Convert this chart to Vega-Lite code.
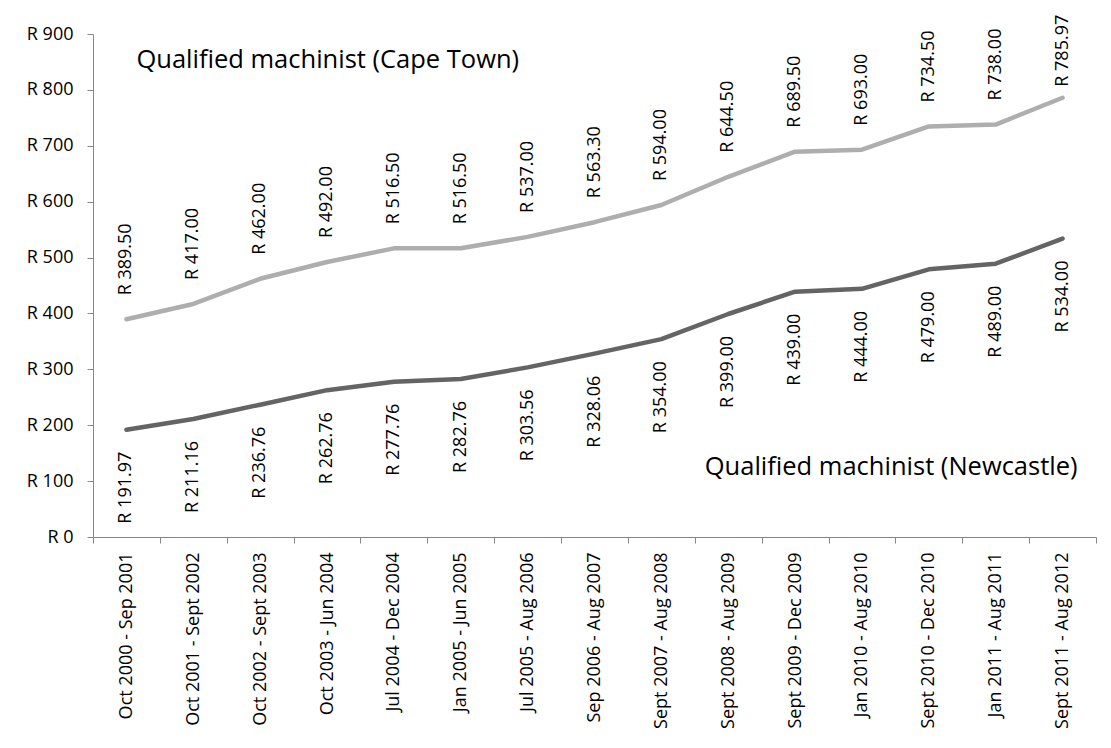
{
  "$schema": "https://vega.github.io/schema/vega-lite/v6.json",
  "autosize": {"type": "none"},
  "padding": {"left": 93, "top": 34, "right": 15, "bottom": 211},
  "width": 1003,
  "height": 503,
  "background": "white",
  "config": {
    "locale": {"number": {"decimal": ".", "thousands": ",", "grouping": [3], "currency": ["R ", ""]}},
    "view": {"stroke": null},
    "font": "Open Sans",
    "axis": {
      "domainColor": "#868686",
      "tickColor": "#868686",
      "labelColor": "#000000",
      "labelFont": "Open Sans",
      "labelFontSize": 18,
      "grid": false,
      "title": null,
      "tickSize": 6
    }
  },
  "datasets": {
    "wages": [
      {"period": "Oct 2000 - Sep 2001", "series": "Cape Town", "value": 389.50},
      {"period": "Oct 2001 - Sept 2002", "series": "Cape Town", "value": 417.00},
      {"period": "Oct 2002 - Sept 2003", "series": "Cape Town", "value": 462.00},
      {"period": "Oct 2003 - Jun 2004", "series": "Cape Town", "value": 492.00},
      {"period": "Jul 2004 - Dec 2004", "series": "Cape Town", "value": 516.50},
      {"period": "Jan 2005 - Jun 2005", "series": "Cape Town", "value": 516.50},
      {"period": "Jul 2005 - Aug 2006", "series": "Cape Town", "value": 537.00},
      {"period": "Sep 2006 - Aug 2007", "series": "Cape Town", "value": 563.30},
      {"period": "Sept 2007 - Aug 2008", "series": "Cape Town", "value": 594.00},
      {"period": "Sept 2008 - Aug 2009", "series": "Cape Town", "value": 644.50},
      {"period": "Sept 2009 - Dec 2009", "series": "Cape Town", "value": 689.50},
      {"period": "Jan 2010 - Aug 2010", "series": "Cape Town", "value": 693.00},
      {"period": "Sept 2010 - Dec 2010", "series": "Cape Town", "value": 734.50},
      {"period": "Jan 2011 - Aug 2011", "series": "Cape Town", "value": 738.00},
      {"period": "Sept 2011 - Aug 2012", "series": "Cape Town", "value": 785.97},
      {"period": "Oct 2000 - Sep 2001", "series": "Newcastle", "value": 191.97},
      {"period": "Oct 2001 - Sept 2002", "series": "Newcastle", "value": 211.16},
      {"period": "Oct 2002 - Sept 2003", "series": "Newcastle", "value": 236.76},
      {"period": "Oct 2003 - Jun 2004", "series": "Newcastle", "value": 262.76},
      {"period": "Jul 2004 - Dec 2004", "series": "Newcastle", "value": 277.76},
      {"period": "Jan 2005 - Jun 2005", "series": "Newcastle", "value": 282.76},
      {"period": "Jul 2005 - Aug 2006", "series": "Newcastle", "value": 303.56},
      {"period": "Sep 2006 - Aug 2007", "series": "Newcastle", "value": 328.06},
      {"period": "Sept 2007 - Aug 2008", "series": "Newcastle", "value": 354.00},
      {"period": "Sept 2008 - Aug 2009", "series": "Newcastle", "value": 399.00},
      {"period": "Sept 2009 - Dec 2009", "series": "Newcastle", "value": 439.00},
      {"period": "Jan 2010 - Aug 2010", "series": "Newcastle", "value": 444.00},
      {"period": "Sept 2010 - Dec 2010", "series": "Newcastle", "value": 479.00},
      {"period": "Jan 2011 - Aug 2011", "series": "Newcastle", "value": 489.00},
      {"period": "Sept 2011 - Aug 2012", "series": "Newcastle", "value": 534.00}
    ]
  },
  "data": {"name": "wages"},
  "encoding": {
    "x": {
      "field": "period",
      "type": "nominal",
      "sort": null,
      "bandPosition": 0.5,
      "scale": {"type": "band", "paddingInner": 0, "paddingOuter": 0},
      "axis": {"tickBand": "extent", "labelAngle": -90, "labelAlign": "right", "labelBaseline": "middle", "labelPadding": 9, "labelLimit": 400}
    },
    "y": {
      "field": "value",
      "type": "quantitative",
      "scale": {"domain": [0, 900], "nice": false, "zero": true},
      "axis": {"values": [0, 100, 200, 300, 400, 500, 600, 700, 800, 900], "format": "$.0f", "labelPadding": 14}
    }
  },
  "layer": [
    {
      "mark": {"type": "line", "strokeWidth": 4.5, "strokeCap": "round", "strokeJoin": "round"},
      "encoding": {
        "color": {"field": "series", "type": "nominal", "scale": {"domain": ["Cape Town", "Newcastle"], "range": ["#AEAEAE", "#646464"]}, "legend": null}
      }
    },
    {
      "transform": [{"filter": "datum.series === 'Cape Town'"}],
      "mark": {"type": "text", "angle": 270, "align": "left", "baseline": "middle", "dx": {"expr": "datum.value > 780 ? 11 : 24"}, "fontSize": 18, "font": "Open Sans", "color": "#000000"},
      "encoding": {"text": {"field": "value", "type": "quantitative", "format": "$.2f"}}
    },
    {
      "transform": [{"filter": "datum.series === 'Newcastle'"}],
      "mark": {"type": "text", "angle": 270, "align": "right", "baseline": "middle", "dx": -22, "fontSize": 18, "font": "Open Sans", "color": "#000000"},
      "encoding": {"text": {"field": "value", "type": "quantitative", "format": "$.2f"}}
    },
    {
      "data": {"values": [{"period": "Oct 2000 - Sep 2001", "value": 853, "label": "Qualified machinist (Cape Town)"}]},
      "mark": {"type": "text", "align": "left", "baseline": "middle", "dx": 10, "fontSize": 25.5, "font": "Open Sans", "color": "#000000"},
      "encoding": {"text": {"field": "label", "type": "nominal"}}
    },
    {
      "data": {"values": [{"period": "Sept 2011 - Aug 2012", "value": 125, "label": "Qualified machinist (Newcastle)"}]},
      "mark": {"type": "text", "align": "right", "baseline": "middle", "dx": 15, "fontSize": 25.5, "font": "Open Sans", "color": "#000000"},
      "encoding": {"text": {"field": "label", "type": "nominal"}}
    }
  ]
}
